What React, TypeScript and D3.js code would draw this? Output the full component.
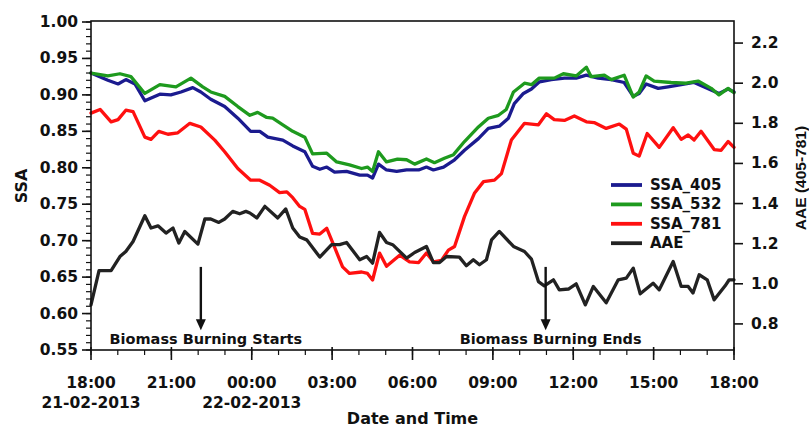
import React from 'react';
import * as d3 from 'd3';

// ---- data (hours since 18:00 on 21-02-2013, value) ----
const ssa405: [number, number][] = [
  [0, 0.930], [0.63, 0.920], [1.01, 0.915], [1.30, 0.921], [1.64, 0.915], [2.01, 0.892],
  [2.57, 0.901], [2.98, 0.900], [3.36, 0.904], [3.80, 0.910], [4.10, 0.904], [4.47, 0.894],
  [4.99, 0.884], [5.48, 0.868], [5.96, 0.850], [6.30, 0.850], [6.60, 0.842], [7.16, 0.838],
  [7.53, 0.830], [7.98, 0.822], [8.27, 0.802], [8.54, 0.798], [8.80, 0.801], [9.09, 0.794],
  [9.54, 0.795], [10.03, 0.790], [10.32, 0.790], [10.51, 0.786], [10.73, 0.805], [11.03, 0.797],
  [11.41, 0.795], [11.78, 0.797], [12.23, 0.797], [12.52, 0.801], [12.78, 0.797], [13.16, 0.801],
  [13.57, 0.811], [13.94, 0.824], [14.46, 0.840], [14.83, 0.854], [15.24, 0.857], [15.58, 0.868],
  [15.80, 0.888], [16.14, 0.902], [16.44, 0.908], [16.74, 0.918], [17.18, 0.921], [17.67, 0.923],
  [18.11, 0.923], [18.49, 0.927], [18.93, 0.923], [19.42, 0.921], [19.90, 0.917], [20.24, 0.898],
  [20.46, 0.902], [20.72, 0.915], [21.17, 0.909], [21.54, 0.911], [22.03, 0.914], [22.51, 0.917],
  [22.89, 0.911], [23.44, 0.902], [23.78, 0.908], [24, 0.904]
];
const ssa532: [number, number][] = [
  [0, 0.930], [0.63, 0.926], [1.08, 0.929], [1.49, 0.925], [2.01, 0.902], [2.57, 0.914],
  [3.17, 0.911], [3.73, 0.923], [4.17, 0.911], [4.47, 0.904], [4.99, 0.898], [5.48, 0.884],
  [5.93, 0.872], [6.22, 0.876], [6.56, 0.869], [6.78, 0.868], [7.16, 0.859], [7.53, 0.850],
  [7.98, 0.842], [8.27, 0.819], [8.80, 0.820], [9.17, 0.808], [9.65, 0.804], [10.10, 0.799],
  [10.32, 0.801], [10.51, 0.795], [10.73, 0.822], [11.03, 0.808], [11.44, 0.812], [11.78, 0.811],
  [12.08, 0.805], [12.52, 0.812], [12.82, 0.807], [13.19, 0.813], [13.53, 0.818], [13.94, 0.836],
  [14.46, 0.856], [14.83, 0.868], [15.21, 0.872], [15.50, 0.880], [15.77, 0.904], [16.18, 0.916],
  [16.44, 0.914], [16.73, 0.923], [17.29, 0.923], [17.63, 0.929], [18.11, 0.926], [18.49, 0.938],
  [18.67, 0.925], [19.16, 0.927], [19.42, 0.921], [19.90, 0.927], [20.24, 0.897], [20.46, 0.904],
  [20.72, 0.926], [21.02, 0.919], [21.65, 0.917], [22.21, 0.916], [22.66, 0.919], [23.15, 0.909],
  [23.44, 0.900], [23.78, 0.909], [24, 0.903]
];
const ssa781: [number, number][] = [
  [0, 0.875], [0.34, 0.880], [0.75, 0.863], [1.01, 0.866], [1.30, 0.879], [1.57, 0.877],
  [2.01, 0.842], [2.24, 0.839], [2.53, 0.850], [2.87, 0.846], [3.24, 0.848], [3.69, 0.861],
  [4.10, 0.856], [4.62, 0.838], [4.99, 0.822], [5.48, 0.799], [5.96, 0.783], [6.30, 0.783],
  [6.67, 0.776], [7.04, 0.766], [7.31, 0.767], [7.53, 0.759], [7.79, 0.747], [7.98, 0.743],
  [8.27, 0.710], [8.54, 0.709], [8.80, 0.717], [9.09, 0.691], [9.39, 0.664], [9.65, 0.655],
  [10.10, 0.657], [10.32, 0.655], [10.51, 0.646], [10.77, 0.683], [11.03, 0.665], [11.52, 0.680],
  [11.89, 0.671], [12.23, 0.670], [12.52, 0.683], [12.78, 0.671], [13.08, 0.673], [13.34, 0.687],
  [13.57, 0.692], [13.94, 0.733], [14.31, 0.765], [14.65, 0.781], [15.06, 0.783], [15.32, 0.792],
  [15.69, 0.838], [16.18, 0.861], [16.70, 0.859], [17.00, 0.874], [17.29, 0.866], [17.67, 0.865],
  [18.04, 0.871], [18.49, 0.863], [18.78, 0.862], [19.23, 0.854], [19.72, 0.860], [19.98, 0.853],
  [20.24, 0.820], [20.46, 0.816], [20.76, 0.847], [21.21, 0.828], [21.73, 0.855], [22.03, 0.839],
  [22.29, 0.845], [22.51, 0.838], [22.77, 0.850], [23.26, 0.825], [23.52, 0.824], [23.78, 0.836],
  [24, 0.828]
];
const aae: [number, number][] = [
  [0, 0.895], [0.30, 1.066], [0.75, 1.066], [1.08, 1.136], [1.30, 1.161], [1.57, 1.211],
  [2.01, 1.339], [2.24, 1.278], [2.50, 1.289], [2.80, 1.253], [3.06, 1.278], [3.28, 1.203],
  [3.50, 1.261], [3.99, 1.198], [4.25, 1.323], [4.47, 1.323], [4.77, 1.306], [4.99, 1.323],
  [5.29, 1.361], [5.55, 1.349], [5.78, 1.361], [5.93, 1.353], [6.19, 1.328], [6.49, 1.386],
  [6.97, 1.328], [7.27, 1.373], [7.53, 1.278], [7.79, 1.233], [8.05, 1.219], [8.54, 1.133],
  [8.98, 1.195], [9.28, 1.195], [9.54, 1.206], [10.03, 1.120], [10.29, 1.136], [10.51, 1.103],
  [10.77, 1.256], [11.03, 1.206], [11.26, 1.195], [11.78, 1.128], [12.08, 1.156], [12.52, 1.186],
  [12.78, 1.106], [13.01, 1.106], [13.27, 1.136], [13.75, 1.133], [14.01, 1.090], [14.27, 1.120],
  [14.50, 1.095], [14.76, 1.120], [14.95, 1.219], [15.24, 1.261], [15.77, 1.186], [16.18, 1.161],
  [16.44, 1.123], [16.70, 1.011], [16.92, 0.990], [17.26, 1.020], [17.48, 0.970], [17.82, 0.974],
  [18.11, 1.000], [18.45, 0.895], [18.75, 0.987], [19.23, 0.905], [19.68, 1.020], [19.98, 1.028],
  [20.24, 1.078], [20.50, 0.950], [20.98, 1.003], [21.21, 0.970], [21.73, 1.111], [22.03, 0.987],
  [22.29, 0.987], [22.47, 0.954], [22.70, 1.045], [23.00, 1.020], [23.26, 0.920], [23.67, 0.990],
  [23.82, 1.020], [24, 1.020]
];

const xMajorHours = [0, 3, 6, 9, 12, 15, 18, 21, 24];
const xTickLabels = ['18:00', '21:00', '00:00', '03:00', '06:00', '09:00', '12:00', '15:00', '18:00'];
const dateHours = [0, 6];
const dateLabels = ['21-02-2013', '22-02-2013'];
const leftTicks = [0.55, 0.60, 0.65, 0.70, 0.75, 0.80, 0.85, 0.90, 0.95, 1.00];
const rightTicks = [0.8, 1.0, 1.2, 1.4, 1.6, 1.8, 2.0, 2.2];
const seriesNames = ['SSA_405', 'SSA_532', 'SSA_781', 'AAE'];
const seriesColors = ['#1b1b8f', '#1e9a1e', '#ff1010', '#222222'];
const arrowHours = [4.1, 16.97];
const arrowTexts = ['Biomass Burning Starts', 'Biomass Burning Ends'];
const arrowTop = 0.664;
const arrowTip = 0.577;

const W = 809, H = 427;
const L = 91, R = 734, T = 22, B = 350;
const FONT = '"DejaVu Sans", sans-serif';

export default function App() {
  const x = d3.scaleLinear().domain([0, 24]).range([L, R]);
  const yL = d3.scaleLinear().domain([0.55, 1.0]).range([B, T]);
  const yR = d3.scaleLinear().domain([0.67, 2.305]).range([B, T]);
  const lineL = d3.line<[number, number]>().x(d => x(d[0])).y(d => yL(d[1]));
  const lineR = d3.line<[number, number]>().x(d => x(d[0])).y(d => yR(d[1]));
  const minorL = d3.range(55, 101).map(v => v / 100);
  const minorX = d3.range(0, 25);
  const paths = [lineL(ssa405), lineL(ssa532), lineL(ssa781), lineR(aae)];

  return (
    <svg width={W} height={H} style={{ position: 'absolute', left: 0, top: 0, background: '#fff' }}>
      <rect x={0} y={0} width={W} height={H} fill="#fff" />
      {/* series */}
      {paths.map((p, i) => (
        <path key={i} d={p || ''} fill="none" stroke={seriesColors[i]} strokeWidth={3.3}
          strokeLinejoin="round" strokeLinecap="round" />
      ))}
      {/* frame */}
      <rect x={L} y={T - 1} width={R - L} height={B - T + 1} fill="none" stroke="#111" strokeWidth={1.6} />
      {/* left axis ticks */}
      {minorL.map((v, i) => (
        <line key={'ml' + i} x1={L - 5} x2={L} y1={yL(v)} y2={yL(v)} stroke="#111" strokeWidth={1.2} />
      ))}
      {leftTicks.map((v, i) => (
        <g key={'lt' + i}>
          <line x1={L - 9} x2={L} y1={yL(v)} y2={yL(v)} stroke="#111" strokeWidth={1.6} />
          <text x={L - 13} y={yL(v)} textAnchor="end" dominantBaseline="central"
            fontFamily={FONT} fontWeight="bold" fontSize={15.5} fill="#111">{v.toFixed(2)}</text>
        </g>
      ))}
      {/* right axis ticks */}
      {rightTicks.map((v, i) => (
        <g key={'rt' + i}>
          <line x1={R} x2={R + 9} y1={yR(v)} y2={yR(v)} stroke="#111" strokeWidth={1.6} />
          <text x={R + 17} y={yR(v)} textAnchor="start" dominantBaseline="central"
            fontFamily={FONT} fontWeight="bold" fontSize={15.5} fill="#111">{v.toFixed(1)}</text>
        </g>
      ))}
      {/* bottom axis ticks */}
      {minorX.map((h, i) => (
        <line key={'mx' + i} x1={x(h)} x2={x(h)} y1={B} y2={B + 5} stroke="#111" strokeWidth={1.2} />
      ))}
      {xMajorHours.map((h, i) => (
        <g key={'xt' + i}>
          <line x1={x(h)} x2={x(h)} y1={B - 3} y2={B + 10} stroke="#111" strokeWidth={1.6} />
          <text x={x(h)} y={388} textAnchor="middle" fontFamily={FONT} fontWeight="bold"
            fontSize={15.5} fill="#111">{xTickLabels[i]}</text>
        </g>
      ))}
      {dateHours.map((h, i) => (
        <text key={'d' + i} x={x(h)} y={408} textAnchor="middle" fontFamily={FONT} fontWeight="bold"
          fontSize={15.5} fill="#111">{dateLabels[i]}</text>
      ))}
      {/* axis titles */}
      <text x={(L + R) / 2} y={424} textAnchor="middle" fontFamily={FONT} fontWeight="bold"
        fontSize={16} fill="#111">Date and Time</text>
      <text transform={`translate(27,${(T + B) / 2}) rotate(-90)`} textAnchor="middle"
        fontFamily={FONT} fontWeight="bold" fontSize={16} fill="#111">SSA</text>
      <text transform={`translate(806,178) rotate(-90)`} textAnchor="middle"
        fontFamily='"Liberation Sans", Arial, sans-serif' fontWeight="bold" fontSize={15.5} fill="#111">AAE (405-781)</text>
      {/* annotations */}
      {arrowHours.map((h, i) => (
        <g key={'a' + i}>
          <line x1={x(h)} x2={x(h)} y1={yL(arrowTop)} y2={yL(arrowTip) - 8} stroke="#111" strokeWidth={2.4} />
          <polygon points={`${x(h) - 5},${yL(arrowTip) - 11} ${x(h) + 5},${yL(arrowTip) - 11} ${x(h)},${yL(arrowTip)}`} fill="#111" />
          <text x={x(h) + 5} y={344} textAnchor="middle" fontFamily={FONT} fontWeight="bold"
            fontSize={14.5} fill="#111">{arrowTexts[i]}</text>
        </g>
      ))}
      {/* legend */}
      {seriesNames.map((n, i) => (
        <g key={'lg' + i}>
          <line x1={611} x2={642} y1={185 + i * 19.4} y2={185 + i * 19.4} stroke={seriesColors[i]} strokeWidth={3.8} />
          <text x={650} y={185 + i * 19.4} dominantBaseline="central" fontFamily={FONT} fontWeight="bold"
            fontSize={15} fill="#111">{n}</text>
        </g>
      ))}
    </svg>
  );
}
